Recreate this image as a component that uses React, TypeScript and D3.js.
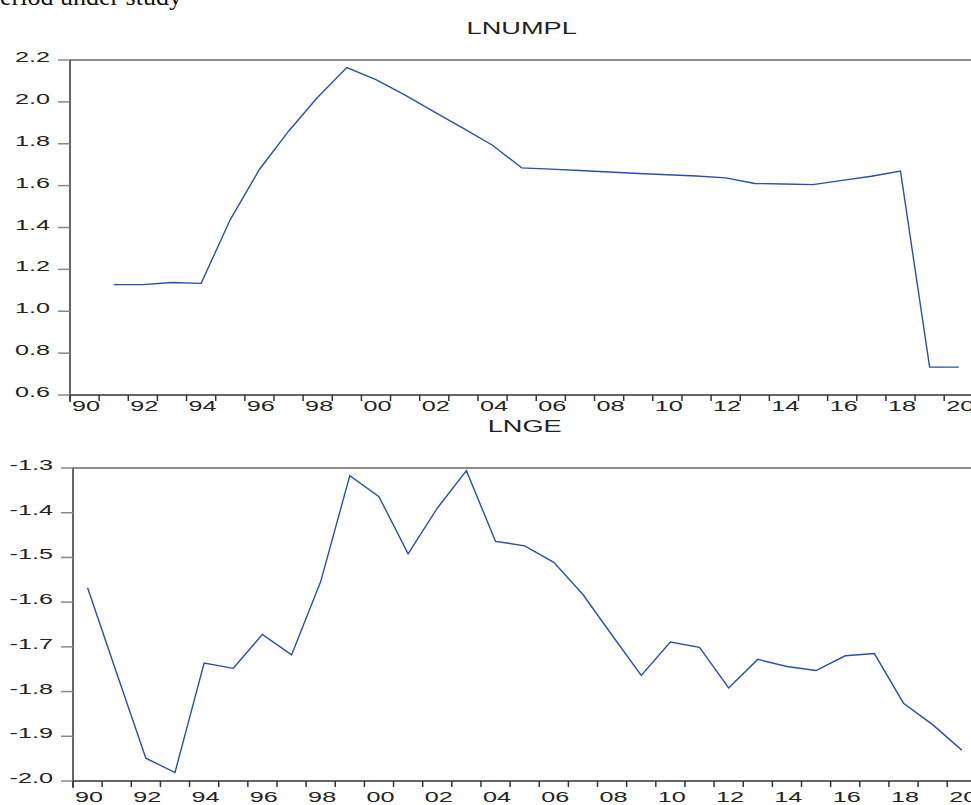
import React, { useRef, useEffect } from 'react';
import * as d3 from 'd3';

// LNUMPL starts one year later than LNGE
const lnumplYears = [
  1991, 1992, 1993, 1994, 1995, 1996, 1997, 1998, 1999, 2000,
  2001, 2002, 2003, 2004, 2005, 2006, 2007, 2008, 2009, 2010,
  2011, 2012, 2013, 2014, 2015, 2016, 2017, 2018, 2019, 2020,
];
const lnumplValues = [
  1.127, 1.127, 1.137, 1.133, 1.438, 1.677, 1.86, 2.022, 2.164, 2.106,
  2.032, 1.952, 1.873, 1.793, 1.685, 1.679, 1.672, 1.665, 1.658, 1.652,
  1.646, 1.637, 1.61, 1.608, 1.605, 1.625, 1.645, 1.669, 0.733, 0.733,
];

const lngeYears = [
  1990, 1991, 1992, 1993, 1994, 1995, 1996, 1997, 1998, 1999, 2000,
  2001, 2002, 2003, 2004, 2005, 2006, 2007, 2008, 2009, 2010,
  2011, 2012, 2013, 2014, 2015, 2016, 2017, 2018, 2019, 2020,
];
const lngeValues = [
  -1.568, -1.759, -1.949, -1.981, -1.736, -1.748, -1.672, -1.718, -1.554, -1.317, -1.364,
  -1.492, -1.39, -1.306, -1.464, -1.474, -1.511, -1.583, -1.674, -1.764, -1.689,
  -1.701, -1.792, -1.728, -1.744, -1.753, -1.72, -1.715, -1.826, -1.874, -1.931,
];

const tickYears = [
  1990, 1991, 1992, 1993, 1994, 1995, 1996, 1997, 1998, 1999, 2000,
  2001, 2002, 2003, 2004, 2005, 2006, 2007, 2008, 2009, 2010,
  2011, 2012, 2013, 2014, 2015, 2016, 2017, 2018, 2019, 2020,
];
const lnumplTicks = [0.6, 0.8, 1.0, 1.2, 1.4, 1.6, 1.8, 2.0, 2.2];
const lngeTicks = [-2.0, -1.9, -1.8, -1.7, -1.6, -1.5, -1.4, -1.3];

const W = 971;
const H = 805;
const FONT = '"Liberation Sans", Arial, Helvetica, sans-serif';
const LINE = '#2B4EA6';
const STRETCH = 1.8; // glyphs in the source are drawn wide

interface PanelSpec {
  title: string;
  titleY: number;
  years: number[];
  values: number[];
  yTicks: number[];
  yDomain: [number, number];
  left: number;
  top: number;
  bottom: number;
  labelGap: number;
}

const panels: PanelSpec[] = [
  {
    title: 'LNUMPL', titleY: 34, years: lnumplYears, values: lnumplValues,
    yTicks: lnumplTicks, yDomain: [0.6, 2.2], left: 70, top: 60, bottom: 395, labelGap: 16,
  },
  {
    title: 'LNGE', titleY: 432, years: lngeYears, values: lngeValues,
    yTicks: lngeTicks, yDomain: [-2.0, -1.3], left: 73, top: 468, bottom: 781, labelGap: 21,
  },
];

const App: React.FC = () => {
  const svgRef = useRef<SVGSVGElement | null>(null);

  useEffect(() => {
    const svg = d3.select(svgRef.current);
    svg.selectAll('*').remove();

    // cropped caption from the page above the figure
    svg.append('text')
      .attr('x', -13)
      .attr('y', 5)
      .attr('font-family', '"Liberation Serif", "Times New Roman", serif')
      .attr('font-size', 26)
      .attr('fill', '#111')
      .text('period under study');

    const stretched = (g: d3.Selection<SVGGElement, unknown, null, undefined>, x: number, y: number, txt: string, anchor: string, size: number, sx = STRETCH) => {
      g.append('text')
        .attr('transform', `translate(${x},${y}) scale(${sx},1)`)
        .attr('text-anchor', anchor)
        .attr('font-family', FONT)
        .attr('font-size', size)
        .attr('fill', '#222')
        .text(txt);
    };

    panels.forEach(p => {
      const g = svg.append('g') as unknown as d3.Selection<SVGGElement, unknown, null, undefined>;
      const perYear = 29.14;
      const x = d3.scaleLinear()
        .domain([1990, 2021])
        .range([p.left, p.left + 31 * perYear]);
      const y = d3.scaleLinear().domain(p.yDomain).range([p.bottom, p.top]);

      // title
      stretched(g, (p.left + x(2021)) / 2, p.titleY, p.title, 'middle', 16, 1.7);

      // frame: top border, left and bottom axes
      g.append('line')
        .attr('x1', p.left).attr('x2', W + 10)
        .attr('y1', p.top).attr('y2', p.top)
        .attr('stroke', '#666').attr('stroke-width', 1.6);
      g.append('line')
        .attr('x1', p.left).attr('x2', p.left)
        .attr('y1', p.top).attr('y2', p.bottom + 7)
        .attr('stroke', '#333').attr('stroke-width', 1.5);
      g.append('line')
        .attr('x1', p.left).attr('x2', W + 10)
        .attr('y1', p.bottom).attr('y2', p.bottom)
        .attr('stroke', '#333').attr('stroke-width', 1.5);

      // y ticks + labels
      p.yTicks.forEach(t => {
        g.append('line')
          .attr('x1', p.left - 12).attr('x2', p.left)
          .attr('y1', y(t)).attr('y2', y(t))
          .attr('stroke', '#888').attr('stroke-width', 1.5);
        stretched(g, p.left - 20, y(t) + 2, t.toFixed(1), 'end', 14);
      });

      // x ticks (every year), labels on even years
      tickYears.forEach(yr => {
        g.append('line')
          .attr('x1', x(yr)).attr('x2', x(yr))
          .attr('y1', p.bottom).attr('y2', p.bottom + 6)
          .attr('stroke', '#333').attr('stroke-width', 1.5);
        if (yr % 2 === 0) {
          stretched(g, x(yr) + 2, p.bottom + p.labelGap, String(yr).slice(2), 'start', 14);
        }
      });

      // series, plotted at mid-year
      const pts = p.years.map((yr, i) => [yr, p.values[i]] as [number, number]);
      const line = d3.line<[number, number]>()
        .x(d => x(d[0] + 0.5))
        .y(d => y(d[1]));
      g.append('path')
        .datum(pts)
        .attr('d', line)
        .attr('fill', 'none')
        .attr('stroke', LINE)
        .attr('stroke-width', 1.4);
    });
  }, []);

  return (
    <svg
      ref={svgRef}
      width={W}
      height={H}
      style={{ position: 'absolute', left: 0, top: 0, background: '#fff' }}
    />
  );
};

export default App;
